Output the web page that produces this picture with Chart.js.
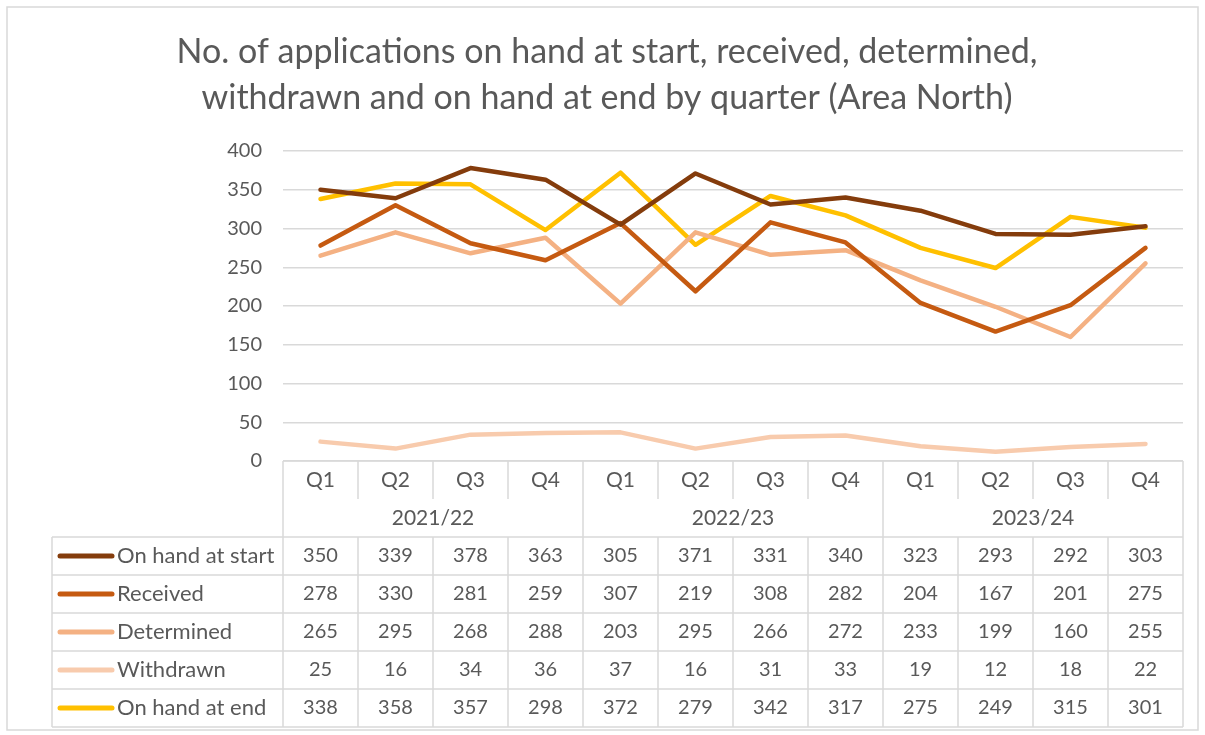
<!DOCTYPE html>
<html>
<head>
<meta charset="utf-8">
<script src="https://cdn.jsdelivr.net/npm/chart.js@4.4.1/dist/chart.umd.min.js"></script>
<style>
  html, body { margin: 0; padding: 0; background: #ffffff; }
  #wrap { width: 1205px; height: 735px; position: relative; }
</style>
</head>
<body>
<div id="wrap"><canvas id="chart" width="1205" height="735"></canvas></div>
<script>
const quarters = ['Q1', 'Q2', 'Q3', 'Q4', 'Q1', 'Q2', 'Q3', 'Q4', 'Q1', 'Q2', 'Q3', 'Q4'];
const years = ['2021/22', '2022/23', '2023/24'];
const seriesNames = ['On hand at start', 'Received', 'Determined', 'Withdrawn', 'On hand at end'];
const onHandStart = [350, 339, 378, 363, 305, 371, 331, 340, 323, 293, 292, 303];
const received = [278, 330, 281, 259, 307, 219, 308, 282, 204, 167, 201, 275];
const determined = [265, 295, 268, 288, 203, 295, 266, 272, 233, 199, 160, 255];
const withdrawn = [25, 16, 34, 36, 37, 16, 31, 33, 19, 12, 18, 22];
const onHandEnd = [338, 358, 357, 298, 372, 279, 342, 317, 275, 249, 315, 301];
const seriesColors = ['#843C0C', '#C55A11', '#F4B183', '#F8CBAD', '#FFC000'];

const titleLines = ['No. of applications on hand at start, received, determined,',
                    'withdrawn and on hand at end by quarter (Area North)'];

const textColor = '#595959';
const lineGray = '#d9d9d9';
const fontFamily = 'Lato, "Open Sans", "Liberation Sans", sans-serif';

const allSeries = [onHandStart, received, determined, withdrawn, onHandEnd];

// Plugin que desenha o título, a moldura e a tabela de dados (estilo Excel)
const excelTable = {
    id: 'excelTable',
    beforeDraw(chart) {
        const ctx = chart.ctx;
        ctx.save();
        ctx.fillStyle = '#ffffff';
        ctx.fillRect(0, 0, chart.width, chart.height);
        ctx.strokeStyle = lineGray;
        ctx.lineWidth = 1.5;
        ctx.strokeRect(7, 7, 1191, 723);
        ctx.restore();
    },
    afterDraw(chart) {
        const ctx = chart.ctx;
        const x = chart.scales.x;
        const n = quarters.length;
        const colW = (x.right - x.left) / n;
        const top = chart.chartArea.bottom;
        const rowH = 38;
        const tableLeft = 52;
        const qRowBottom = top + rowH;
        const yearRowBottom = qRowBottom + rowH;
        const lastBottom = yearRowBottom + rowH * seriesNames.length;

        ctx.save();

        // título
        ctx.fillStyle = textColor;
        ctx.textAlign = 'center';
        ctx.textBaseline = 'middle';
        ctx.font = '34px ' + fontFamily;
        ctx.fillText(titleLines[0], 607, 52);
        ctx.fillText(titleLines[1], 607, 98);

        // linhas da tabela
        ctx.strokeStyle = lineGray;
        ctx.lineWidth = 1.5;
        ctx.beginPath();
        ctx.moveTo(x.left, top); ctx.lineTo(x.right, top);
        // verticais na linha de trimestres
        for (let i = 0; i <= n; i++) {
            const px = x.left + i * colW;
            ctx.moveTo(px, top);
            ctx.lineTo(px, qRowBottom);
        }
        // verticais na linha de anos (apenas entre grupos)
        for (let g = 0; g <= years.length; g++) {
            const px = x.left + g * 4 * colW;
            ctx.moveTo(px, qRowBottom);
            ctx.lineTo(px, yearRowBottom);
        }
        // linhas horizontais das séries
        for (let r = 0; r <= seriesNames.length; r++) {
            const py = yearRowBottom + r * rowH;
            ctx.moveTo(tableLeft, py);
            ctx.lineTo(x.right, py);
        }
        // verticais das séries
        ctx.moveTo(tableLeft, yearRowBottom); ctx.lineTo(tableLeft, lastBottom);
        for (let i = 0; i <= n; i++) {
            const px = x.left + i * colW;
            ctx.moveTo(px, yearRowBottom);
            ctx.lineTo(px, lastBottom);
        }
        ctx.stroke();

        // textos
        ctx.fillStyle = textColor;
        ctx.textAlign = 'center';
        ctx.font = '21px ' + fontFamily;
        quarters.forEach((q, i) => {
            ctx.fillText(q, x.getPixelForValue(i), top + rowH / 2);
        });
        years.forEach((yr, g) => {
            ctx.fillText(yr, x.left + (g * 4 + 2) * colW, qRowBottom + rowH / 2);
        });
        allSeries.forEach((vals, r) => {
            const cy = yearRowBottom + r * rowH + rowH / 2;
            ctx.font = '20px ' + fontFamily;
            vals.forEach((v, i) => {
                ctx.fillText(String(v), x.getPixelForValue(i), cy);
            });
            // legenda
            ctx.strokeStyle = seriesColors[r];
            ctx.lineWidth = 5;
            ctx.lineCap = 'round';
            ctx.beginPath();
            ctx.moveTo(60, cy);
            ctx.lineTo(112, cy);
            ctx.stroke();
            ctx.textAlign = 'left';
            ctx.font = '22px ' + fontFamily;
            ctx.fillText(seriesNames[r], 117, cy);
            ctx.textAlign = 'center';
        });

        ctx.restore();
    }
};

const datasets = allSeries.map((vals, i) => ({
    label: seriesNames[i],
    data: vals,
    borderColor: seriesColors[i],
    backgroundColor: seriesColors[i],
    borderWidth: 4.5,
    pointRadius: 0,
    tension: 0,
    borderCapStyle: 'round',
    borderJoinStyle: 'round'
}));

const config = {
    type: 'line',
    data: {
        labels: quarters.map((q, i) => q + ' ' + years[Math.floor(i / 4)]),
        datasets: datasets
    },
    options: {
        responsive: false,
        animation: false,
        layout: { padding: { top: 151, right: 22, bottom: 274, left: 0 } },
        plugins: {
            legend: { display: false },
            title: { display: false },
            tooltip: { enabled: false }
        },
        scales: {
            x: {
                display: false,
                offset: true
            },
            y: {
                min: 0,
                max: 400,
                ticks: {
                    stepSize: 50,
                    color: textColor,
                    font: { family: fontFamily, size: 20 },
                    padding: 21
                },
                grid: { color: lineGray, lineWidth: 1.5, drawTicks: false },
                border: { display: false },
                afterFit(scale) { scale.width = 283; }
            }
        }
    },
    plugins: [excelTable]
};

const myChart = new Chart(document.getElementById('chart').getContext('2d'), config);
</script>
</body>
</html>
